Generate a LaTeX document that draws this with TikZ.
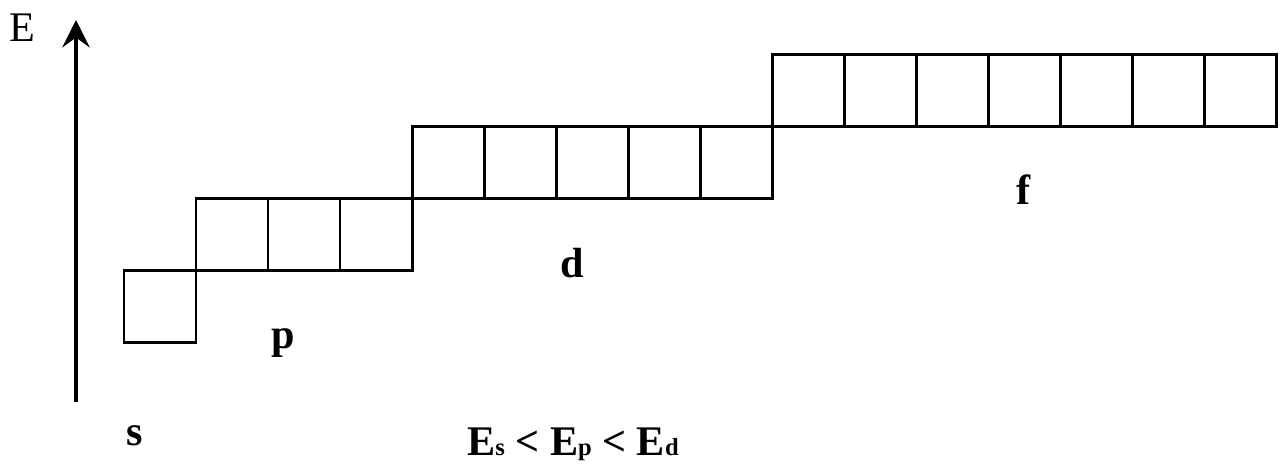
\documentclass[tikz,border=0pt]{standalone}
\usepackage{fontspec}
\setmainfont{Liberation Serif}
\usetikzlibrary{arrows.meta}
\newcommand{\orbsub}[1]{{\fontsize{14}{14}\selectfont #1}}

\begin{document}
\begin{tikzpicture}[x=0.02cm,y=-0.02cm,line width=1.7pt,
  orblabel/.style={font=\fontsize{24}{28}\selectfont\bfseries,anchor=base,inner sep=0pt}]
\useasboundingbox (0,0) rectangle (1280,468);
% energy axis
\coordinate (axisfoot) at (76,402);
\coordinate (axistip) at (76,20);
\draw[line width=2pt,-{Stealth[length=0.55cm,width=0.55cm,inset=0.2cm]}] (axisfoot) -- (axistip);
\node[font=\fontsize{24}{28}\selectfont] (elabel) at (22,28) {E};
% one row of boxes per subshell: left x, top y, number of boxes
\foreach \x/\y/\n in {124/270/1,196/198/3,412/126/5,772/54/7} {
  \foreach \i in {1,...,\n} {\draw (\x+72*\i-72,\y) rectangle ++(72,72);}
}
\node[orblabel] (slabel) at (135,445) {s};
\node[orblabel] (plabel) at (283,348) {p};
\node[orblabel] (dlabel) at (572,277) {d};
\node[orblabel] (flabel) at (1024,204) {f};
\node[orblabel] (order) at (573,455) {E\orbsub{s} < E\orbsub{p} < E\orbsub{d}};
\end{tikzpicture}
\end{document}
